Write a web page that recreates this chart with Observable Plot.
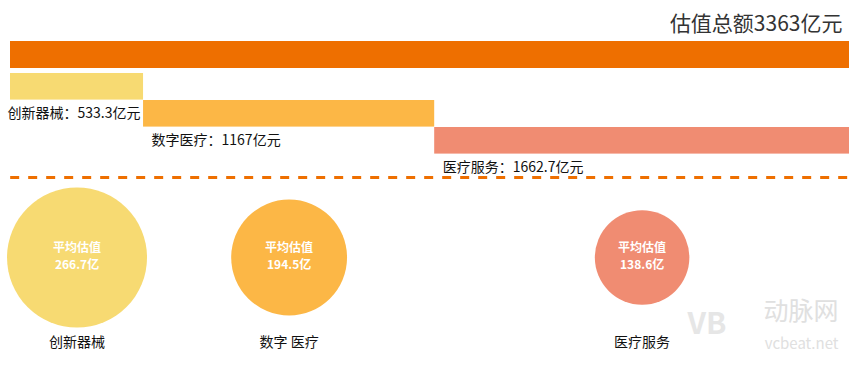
<!DOCTYPE html>
<html><head><meta charset="utf-8">
<script src="https://cdn.jsdelivr.net/npm/d3@7"></script>
<script src="https://cdn.jsdelivr.net/npm/@observablehq/plot@0.6"></script>
<style>body{margin:0;background:#fff} svg{display:block}</style>
</head><body><div id="chart"></div>
<script>
const categories = ["创新器械", "数字医疗", "医疗服务"];
const circleLabels = ["创新器械", "数字 医疗", "医疗服务"];
const totals = [533.3, 1167, 1662.7];
const averages = [266.7, 194.5, 138.6];
const grandTotal = 3363;
const colors = ["#F7DA72", "#FCB746", "#F08C72"];
const totalColor = "#EE6F00";

let acc = 0;
const segs = categories.map((c, i) => {
  const start = acc; acc += totals[i];
  return {c, i, start, end: acc, mid: (start + acc) / 2, value: totals[i], avg: averages[i], label: circleLabels[i]};
});
const barTop = i => 73 + i * 27;
const barH = 26.6;

const chart = Plot.plot({
  width: 853, height: 365,
  marginLeft: 0, marginRight: 0, marginTop: 0, marginBottom: 0,
  style: {fontFamily: "'Noto Sans CJK SC', 'Noto Sans', sans-serif", background: "#fff"},
  x: {domain: [0, grandTotal], range: [10, 849], axis: null},
  y: {type: "identity", axis: null},
  color: {domain: categories, range: colors},
  r: {type: "pow", exponent: 0.6, domain: [0, d3.max(averages)], range: [0, 70]},
  marks: [
    Plot.text([grandTotal], {x: d => d, y: () => 24, text: d => `估值总额${d}亿元`, textAnchor: "end", dx: -7, fontSize: 21, fill: "#333"}),
    Plot.rect([grandTotal], {x1: () => 0, x2: d => d, y1: () => 41, y2: () => 68, fill: totalColor}),
    Plot.rect(segs, {x1: "start", x2: "end", y1: d => barTop(d.i), y2: d => barTop(d.i) + barH, fill: "c"}),
    Plot.text(segs.filter(d => d.i === 0), {x: "end", y: d => barTop(d.i) + barH + 13, text: d => `${d.c}：${d.value}亿元`, textAnchor: "end", dx: -3, fontSize: 14, fill: "#111"}),
    Plot.text(segs.filter(d => d.i > 0), {x: "start", y: d => barTop(d.i) + barH + 13, text: d => `${d.c}：${d.value}亿元`, textAnchor: "start", dx: 8, fontSize: 14, fill: "#111"}),
    Plot.ruleY([177], {x1: () => 0.7, x2: () => grandTotal * 1.02, stroke: totalColor, strokeWidth: 3, strokeDasharray: "9,9"}),
    Plot.dot(segs, {x: "mid", y: () => 257, r: "avg", fill: "c", stroke: null}),
    Plot.text(segs, {x: "mid", y: () => 248, text: () => "平均估值", fill: "white", fontWeight: "bold", fontSize: 12}),
    Plot.text(segs, {x: "mid", y: () => 265, text: d => `${d.avg}亿`, fill: "white", fontWeight: "bold", fontSize: 12}),
    Plot.text(segs, {x: "mid", y: () => 342, text: "label", fontSize: 14, fill: "#111"}),
    Plot.text(["VB"], {frameAnchor: "bottom-right", dx: -127, dy: -32, text: d => d, fontSize: 30, fontWeight: "bold", fill: "#e6e6e6"}),
    Plot.text(["动脉网"], {frameAnchor: "bottom-right", dx: -15, dy: -46, text: d => d, textAnchor: "end", fontSize: 25, fill: "#e0e0e0"}),
    Plot.text(["vcbeat.net"], {frameAnchor: "bottom-right", dx: -15, dy: -17, text: d => d, textAnchor: "end", fontSize: 15, fill: "#e0e0e0"})
  ]
});
document.getElementById("chart").appendChild(chart);
</script>
</body></html>
